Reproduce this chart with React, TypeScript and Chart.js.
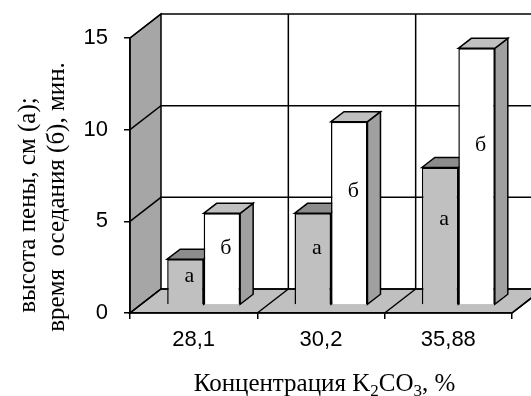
import { useEffect, useRef } from 'react';
import { Chart, registerables } from 'chart.js';

Chart.register(...registerables);

// K2CO3 concentration, %
const categories = ['28,1', '30,2', '35,88'];
// series markers written on the bars
const seriesNames = ['а', 'б'];
// а: foam height, cm
const foamHeight = [2.5, 5, 7.5];
// б: settling time, min
const settlingTime = [5, 10, 14];
const yTicks = [0, 5, 10, 15];
const yTitleLines = ['высота пены, см (а);', 'время  оседания (б), мин.'];
const xTitleParts: { text: string; sub: boolean }[] = [
  { text: 'Концентрация K', sub: false },
  { text: '2', sub: true },
  { text: 'CO', sub: false },
  { text: '3', sub: true },
  { text: ', %', sub: false },
];

const W = 531;
const H = 396;

// pseudo-3D geometry
const WALL = { dx: 31, dy: -24 };
const BAR_SHIFT = { dx: 10, dy: -8 };
const BAR_DEPTH = { dx: 13, dy: -10 };

const FRONT_COLORS = ['#c0c0c0', '#ffffff'];
const TOP_COLORS = ['#8c8c8c', '#c0c0c0'];
const SIDE_COLORS = ['#8c8c8c', '#a0a0a0'];
const SIDE_WALL = '#a6a6a6';
const FLOOR = '#c0c0c0';

const SERIF = '"Liberation Serif", "Times New Roman", serif';
const SANS = '"Liberation Sans", Arial, sans-serif';

function poly(ctx: CanvasRenderingContext2D, pts: number[][], fill?: string) {
  ctx.beginPath();
  ctx.moveTo(pts[0][0], pts[0][1]);
  for (let i = 1; i < pts.length; i++) ctx.lineTo(pts[i][0], pts[i][1]);
  ctx.closePath();
  if (fill) {
    ctx.fillStyle = fill;
    ctx.fill();
  }
  ctx.stroke();
}

function line(ctx: CanvasRenderingContext2D, pts: number[][]) {
  ctx.beginPath();
  ctx.moveTo(pts[0][0], pts[0][1]);
  for (let i = 1; i < pts.length; i++) ctx.lineTo(pts[i][0], pts[i][1]);
  ctx.stroke();
}

const depthPlugin = {
  id: 'depth3d',
  beforeDraw(chart: any) {
    const { ctx } = chart;
    const x = chart.scales.x;
    const y = chart.scales.y;
    const L = x.left;
    const R = x.right;
    const T = y.top;
    const B = y.bottom;
    const { dx, dy } = WALL;
    ctx.save();
    ctx.fillStyle = '#ffffff';
    ctx.fillRect(0, 0, W, H);
    ctx.strokeStyle = '#000';
    ctx.lineWidth = 1.5;
    ctx.lineJoin = 'miter';
    // left wall and floor
    poly(ctx, [[L, T], [L + dx, T + dy], [L + dx, B + dy], [L, B]], SIDE_WALL);
    poly(ctx, [[L, B], [L + dx, B + dy], [R + dx, B + dy], [R, B]], FLOOR);
    // value gridlines across side wall and back wall
    for (const v of yTicks) {
      const py = y.getPixelForValue(v);
      line(ctx, [[L, py], [L + dx, py + dy], [R + dx, py + dy]]);
    }
    // category dividers on back wall and floor
    const step = (R - L) / categories.length;
    for (let i = 1; i <= categories.length; i++) {
      const bx = L + i * step;
      line(ctx, [[bx + dx, T + dy], [bx + dx, B + dy]]);
      line(ctx, [[bx, B], [bx + dx, B + dy]]);
    }
    ctx.restore();
  },
  beforeDatasetsDraw(chart: any) {
    const { ctx } = chart;
    ctx.save();
    ctx.translate(BAR_SHIFT.dx, BAR_SHIFT.dy);
    ctx.strokeStyle = '#000';
    ctx.lineWidth = 1.5;
    const { dx, dy } = BAR_DEPTH;
    for (let i = 0; i < categories.length; i++) {
      for (let d = 0; d < chart.data.datasets.length; d++) {
        const el = chart.getDatasetMeta(d).data[i];
        const p = el.getProps(['x', 'y', 'base', 'width'], true);
        const l = p.x - p.width / 2;
        const r = p.x + p.width / 2;
        poly(ctx, [[r, p.y], [r + dx, p.y + dy], [r + dx, p.base + dy], [r, p.base]], SIDE_COLORS[d]);
        poly(ctx, [[l, p.y], [l + dx, p.y + dy], [r + dx, p.y + dy], [r, p.y]], TOP_COLORS[d]);
      }
    }
  },
  afterDatasetsDraw(chart: any) {
    const { ctx } = chart;
    ctx.fillStyle = '#000';
    ctx.font = `22px ${SERIF}`;
    ctx.textAlign = 'center';
    ctx.textBaseline = 'middle';
    for (let d = 0; d < chart.data.datasets.length; d++) {
      chart.getDatasetMeta(d).data.forEach((el: any) => {
        const p = el.getProps(['x', 'y', 'base'], true);
        ctx.fillText(seriesNames[d], p.x + 4, p.base - 0.62 * (p.base - p.y));
      });
    }
    ctx.restore();
  },
  afterDraw(chart: any) {
    const { ctx } = chart;
    ctx.save();
    ctx.fillStyle = '#000';
    // vertical axis title, two lines
    ctx.font = `25px ${SERIF}`;
    ctx.textAlign = 'center';
    ctx.textBaseline = 'middle';
    const lineX = [28, 57];
    const lineY = [205, 197];
    yTitleLines.forEach((t, k) => {
      ctx.save();
      ctx.translate(lineX[k], lineY[k]);
      ctx.rotate(-Math.PI / 2);
      ctx.fillText(t, 0, 0);
      ctx.restore();
    });
    // horizontal axis title with subscripts
    const mainFont = `25px ${SERIF}`;
    const subFont = `17px ${SERIF}`;
    let total = 0;
    for (const part of xTitleParts) {
      ctx.font = part.sub ? subFont : mainFont;
      total += ctx.measureText(part.text).width;
    }
    let cx = 324.5 - total / 2;
    const baseY = 391;
    ctx.textAlign = 'left';
    ctx.textBaseline = 'alphabetic';
    for (const part of xTitleParts) {
      ctx.font = part.sub ? subFont : mainFont;
      ctx.fillText(part.text, cx, part.sub ? baseY + 5 : baseY);
      cx += ctx.measureText(part.text).width;
    }
    ctx.restore();
  },
};

export default function App() {
  const ref = useRef<HTMLCanvasElement>(null);

  useEffect(() => {
    if (!ref.current) return;
    const chart = new Chart(ref.current, {
      type: 'bar',
      data: {
        labels: categories,
        datasets: [
          {
            label: seriesNames[0],
            data: foamHeight,
            backgroundColor: FRONT_COLORS[0],
            borderColor: '#000',
            borderWidth: 1.5,
            categoryPercentage: 0.573,
            barPercentage: 1,
          },
          {
            label: seriesNames[1],
            data: settlingTime,
            backgroundColor: FRONT_COLORS[1],
            borderColor: '#000',
            borderWidth: 1.5,
            categoryPercentage: 0.573,
            barPercentage: 1,
          },
        ],
      },
      options: {
        responsive: false,
        animation: false,
        devicePixelRatio: 1,
        layout: { padding: { top: 38, right: 19, left: 0, bottom: 0 } },
        plugins: {
          legend: { display: false },
          tooltip: { enabled: false },
          title: { display: false },
        },
        datasets: { bar: { clip: false as any } },
        scales: {
          x: {
            type: 'category',
            offset: true,
            grid: { display: true, drawOnChartArea: false, drawTicks: true, tickLength: 6, offset: true, color: '#000', lineWidth: 1.5 },
            border: { display: true, color: '#000', width: 1.5 },
            ticks: { color: '#000', font: { family: SANS, size: 22 }, padding: 8, maxRotation: 0 },
            afterFit: (s: any) => {
              s.height = 83;
              s.paddingLeft = 0;
              s.paddingRight = 0;
            },
          },
          y: {
            min: 0,
            max: 15,
            grid: { display: true, drawOnChartArea: false, drawTicks: true, tickLength: 6, color: '#000', lineWidth: 1.5 },
            border: { display: true, color: '#000', width: 1.5 },
            ticks: { stepSize: 5, color: '#000', font: { family: SANS, size: 22 }, padding: 16 },
            afterFit: (s: any) => {
              s.width = 130;
              s.paddingTop = 0;
              s.paddingBottom = 0;
            },
          },
        },
      },
      plugins: [depthPlugin],
    });
    return () => chart.destroy();
  }, []);

  return (
    <div style={{ position: 'fixed', left: 0, top: 0, width: W, height: H, background: '#fff' }}>
      <canvas ref={ref} width={W} height={H} style={{ display: 'block' }} />
    </div>
  );
}
